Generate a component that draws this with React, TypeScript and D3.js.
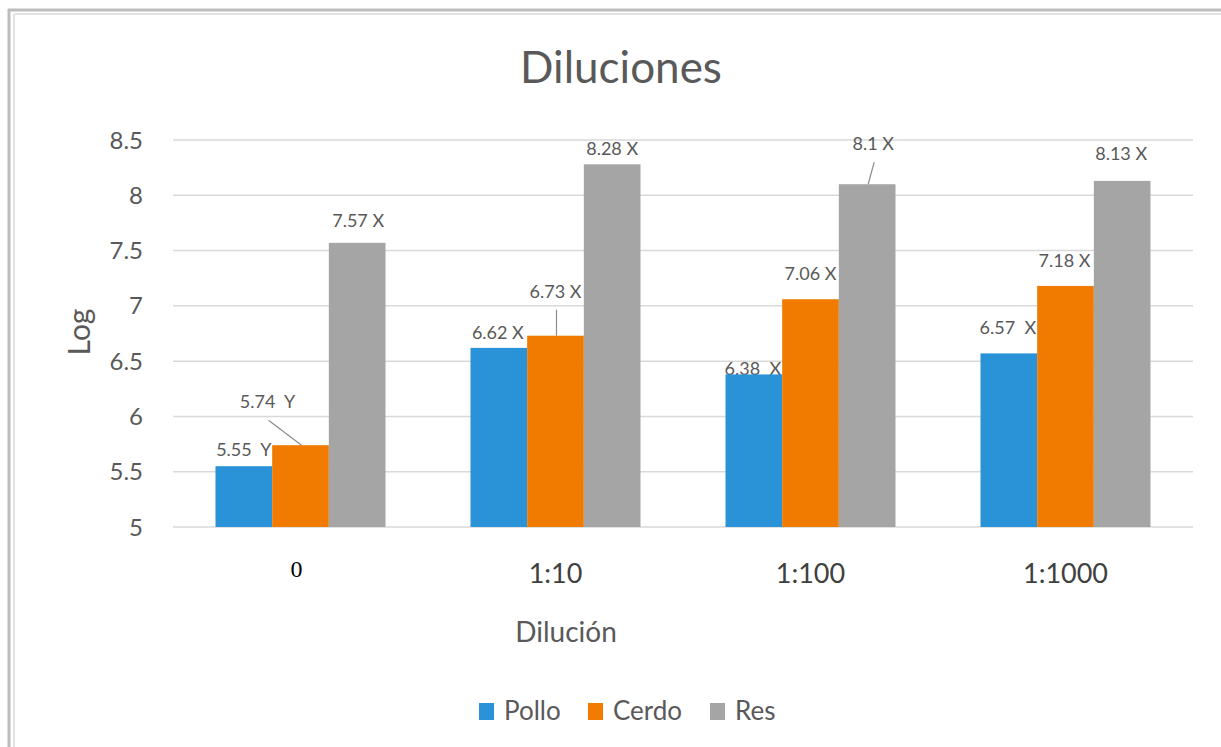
import React from "react";
import * as d3 from "d3";

const categories = ["0", "1:10", "1:100", "1:1000"];
const seriesNames = ["Pollo", "Cerdo", "Res"];
const pollo = [5.55, 6.62, 6.38, 6.57];
const cerdo = [5.74, 6.73, 7.06, 7.18];
const res = [7.57, 8.28, 8.1, 8.13];
const polloSuffix = ["  Y", " X", "  X", "  X"];
const cerdoSuffix = ["  Y", " X", " X", " X"];
const resSuffix = [" X", " X", " X", " X"];
const yTicks = [5, 5.5, 6, 6.5, 7, 7.5, 8, 8.5];

const seriesValues = [pollo, cerdo, res];
const seriesSuffix = [polloSuffix, cerdoSuffix, resSuffix];
const colors = ["#2A92D6", "#F07B00", "#A4A5A4"];

// label placement styling: [dx, dy from bar top, leader]
const labelOffsets: [number, number, boolean][][] = [
  [[0, -10, false], [-1, -9, false], [-1, 1, false], [-1, -19, false]],
  [[-33, -37, true], [0, -38, true], [0, -19, false], [-1, -19, false]],
  [[1, -16, false], [0, -9, false], [6, -34, true], [-1, -21, false]],
];

const W = 1221;
const H = 747;
const plotLeft = 173;
const plotRight = 1193;
const plotTop = 140;
const plotBottom = 527;
const sans = "Lato, 'Open Sans', sans-serif";
const tickFonts = ["'Liberation Serif', 'Times New Roman', serif", sans, sans, sans];
const tickColors = ["#000000", "#404040", "#404040", "#404040"];

export default function App() {
  const x0 = d3.scaleBand<string>().domain(categories).range([plotLeft, plotRight]).padding(0);
  const bw = x0.bandwidth();
  const w = bw / 4.5;
  const x1 = d3.scaleBand<string>().domain(seriesNames).range([0.75 * w, 3.75 * w]).padding(0);
  const y = d3.scaleLinear().domain([5, 8.5]).range([plotBottom, plotTop]);

  const labels: React.ReactNode[] = [];
  const bars: React.ReactNode[] = [];
  seriesNames.forEach((s, si) => {
    seriesValues[si].forEach((v, ci) => {
      const bx = (x0(categories[ci]) as number) + (x1(s) as number);
      const cx = bx + x1.bandwidth() / 2;
      const top = y(v);
      bars.push(
        <rect key={`b${si}-${ci}`} x={bx} y={top} width={x1.bandwidth()} height={y(5) - top} fill={colors[si]} />
      );
      const [dx, dy, leader] = labelOffsets[si][ci];
      const lx = cx + dx;
      const ly = top + dy;
      labels.push(
        <text
          key={`l${si}-${ci}`}
          x={lx}
          y={ly}
          textAnchor="middle"
          fontFamily={sans}
          fontSize={18}
          fill="#595959"
          style={{ whiteSpace: "pre" }}
        >
          {`${v}${seriesSuffix[si][ci]}`}
        </text>
      );
      if (leader) {
        labels.push(
          <line key={`ld${si}-${ci}`} x1={lx + 1} y1={ly + 12} x2={cx + 1} y2={top} stroke="#8c8c8c" strokeWidth={1.2} />
        );
      }
    });
  });

  const legendX = [479, 588, 710];
  return (
    <div style={{ position: "absolute", left: 0, top: 0 }}>
      <svg width={W} height={H} style={{ display: "block", background: "#fff" }}>
        {/* frame */}
        <line x1={9} y1={9} x2={9} y2={H} stroke="#bdbdbd" strokeWidth={3} />
        <line x1={8} y1={10} x2={W} y2={10} stroke="#bdbdbd" strokeWidth={3} />
        <line x1={14} y1={14} x2={14} y2={H} stroke="#e2e2e2" strokeWidth={2} />
        <line x1={14} y1={14} x2={W} y2={14} stroke="#e2e2e2" strokeWidth={2} />

        <text x={621} y={83} textAnchor="middle" fontFamily={sans} fontSize={44} fill="#595959">
          Diluciones
        </text>

        {yTicks.map((t) => (
          <g key={t}>
            <line x1={plotLeft} x2={plotRight} y1={y(t)} y2={y(t)} stroke="#d9d9d9" strokeWidth={1.5} />
            <text x={143} y={y(t)} dy="0.36em" textAnchor="end" fontFamily={sans} fontSize={24} fill="#595959">
              {t}
            </text>
          </g>
        ))}

        {labels}
        {bars}

        {categories.map((c, i) => (
          <text
            key={c}
            x={(x0(c) as number) + bw / 2 - (i === 0 ? 4 : 0)}
            y={i === 0 ? 577 : 583}
            textAnchor="middle"
            fontFamily={tickFonts[i]}
            fontSize={i === 0 ? 24 : 27}
            fill={tickColors[i]}
          >
            {c}
          </text>
        ))}

        <text x={566} y={642} textAnchor="middle" fontFamily={sans} fontSize={28} fill="#595959">
          Dilución
        </text>
        <text transform="translate(90,332) rotate(-90)" textAnchor="middle" fontFamily={sans} fontSize={30} fill="#595959">
          Log
        </text>

        {seriesNames.map((s, i) => (
          <g key={s}>
            <rect x={legendX[i]} y={703} width={15} height={17} fill={colors[i]} />
            <text x={legendX[i] + 25} y={720} fontFamily={sans} fontSize={26} fill="#595959">
              {s}
            </text>
          </g>
        ))}
      </svg>
    </div>
  );
}
